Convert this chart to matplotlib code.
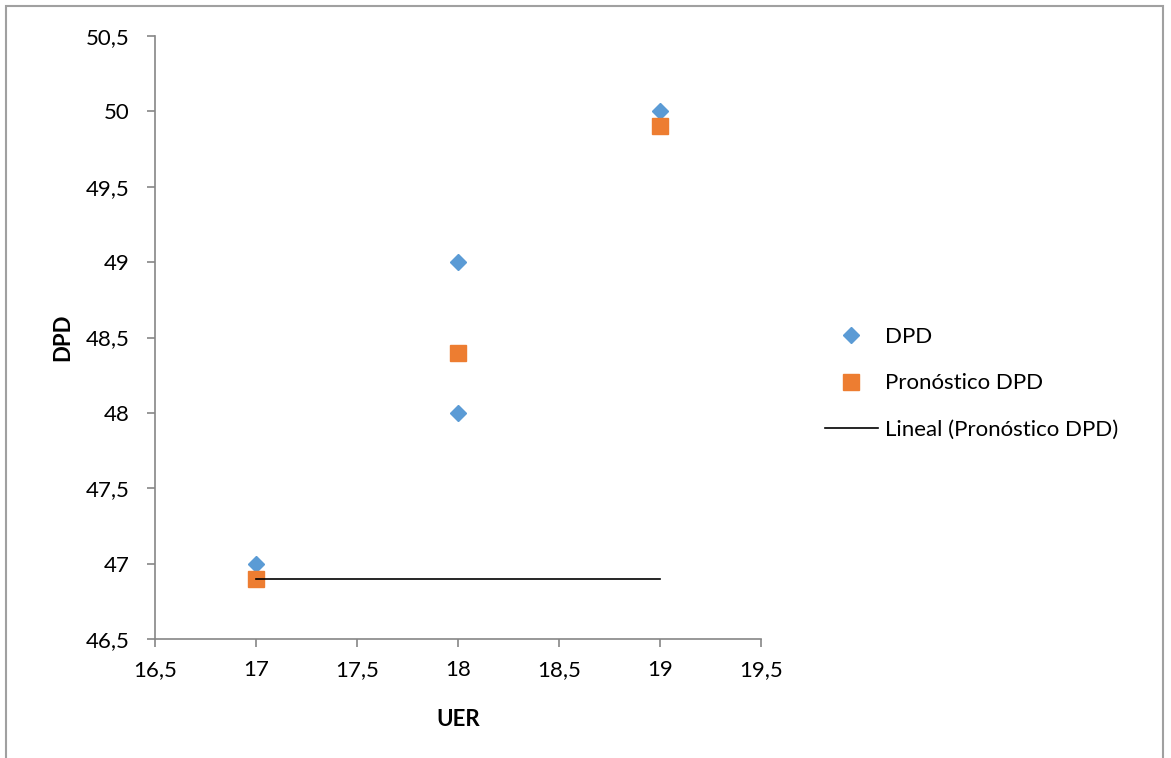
import matplotlib.pyplot as plt
from matplotlib.ticker import FuncFormatter, MultipleLocator
from matplotlib.patches import Rectangle

plt.rcParams['font.family'] = ['Lato', 'DejaVu Sans']

# observed and forecast values
uer = [17, 18, 18, 19]
dpd = [47, 49, 48, 50]
uer_pron = [17, 18, 19]
dpd_pron = [46.9, 48.4, 49.9]
trend_x = [17, 19]
trend_y = [46.9, 46.9]

fig = plt.figure(figsize=(11.71, 7.58), dpi=100)
ax = fig.add_axes([155 / 1171, 1 - 639 / 758, 606 / 1171, 603 / 758])

ax.plot(uer, dpd, linestyle='none', marker='D', markersize=8.5,
        color='#5B9BD5', label='DPD')
ax.plot(uer_pron, dpd_pron, linestyle='none', marker='s', markersize=11,
        color='#ED7D31', label='Pronóstico DPD')
ax.plot(trend_x, trend_y, color='black', linewidth=1.2,
        label='Lineal (Pronóstico DPD)')

ax.set_xlim(16.5, 19.5)
ax.set_ylim(46.5, 50.5)
ax.xaxis.set_major_locator(MultipleLocator(0.5))
ax.yaxis.set_major_locator(MultipleLocator(0.5))
comma = FuncFormatter(lambda v, p: ('%g' % v).replace('.', ','))
ax.xaxis.set_major_formatter(comma)
ax.yaxis.set_major_formatter(comma)

for s in ['top', 'right']:
    ax.spines[s].set_visible(False)
for s in ['left', 'bottom']:
    ax.spines[s].set_color('#868686')
    ax.spines[s].set_linewidth(1.2)
ax.tick_params(colors='#868686', labelcolor='black', labelsize=16,
               length=6, width=1.2)
ax.tick_params(axis='x', pad=9)
ax.tick_params(axis='y', pad=12)

ax.set_xlabel('UER', fontsize=16, fontweight='bold', labelpad=21)
ax.set_ylabel('DPD', fontsize=16, fontweight='bold', labelpad=9)

ax.legend(loc='center left', bbox_to_anchor=(1.105, 0.424), frameon=False,
          fontsize=16, labelspacing=1.2, handlelength=2.4, handletextpad=0.3,
          borderpad=0, borderaxespad=0)

# outer chart frame
fig.patches.append(Rectangle((6 / 1171, -0.05), 1157 / 1171, 1.05 - 6 / 758,
                             transform=fig.transFigure, fill=False,
                             edgecolor='#A0A0A0', linewidth=1.5))

fig.savefig('out.png', dpi=100)
